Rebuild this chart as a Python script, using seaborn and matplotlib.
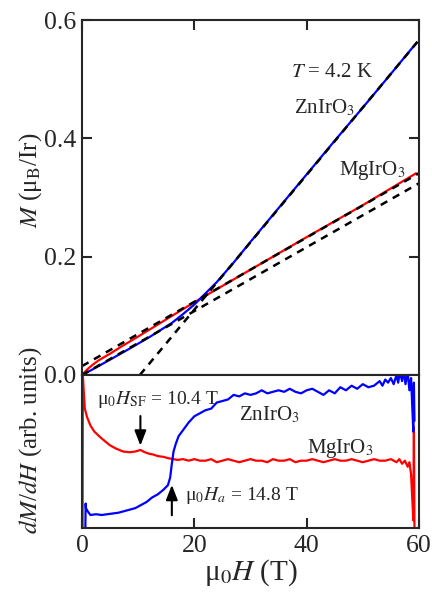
import numpy as np
import pandas as pd
import matplotlib
matplotlib.use("Agg")
import matplotlib.pyplot as plt
import seaborn as sns

# --- magnetization M(H) ---
mg_H = [0, 1, 2, 3, 5, 7, 10, 15, 20, 30, 40, 50, 59.5]
mg_M = [0, 0.010, 0.018, 0.025, 0.036, 0.048, 0.065, 0.094, 0.123, 0.178, 0.233, 0.287, 0.341]

zn_H = [0, 2, 5, 8, 10, 12, 14, 16, 18, 20, 22, 24, 27, 30, 35, 40, 45, 50, 55, 59.6]
zn_M = [0, 0.010, 0.026, 0.042, 0.053, 0.064, 0.076, 0.088, 0.103, 0.119, 0.138, 0.157,
        0.190, 0.225, 0.282, 0.339, 0.396, 0.452, 0.509, 0.562]

# linear fits (dashed)
fit_mg_H = [0, 60]
fit_mg_M = [0.015, 0.341]
fit_zn_low_H = [0, 60]
fit_zn_low_M = [0.0, 0.324]
fit_zn_high_H = [10.3, 60]
fit_zn_high_M = [0.0, 0.566]

# --- dM/dH (arb. units) ---
dmg_H = [0.1, 0.15, 0.5, 0.9, 1.5, 2.2, 3.2, 4.0, 5.0, 6.0, 7.3, 8.5, 9.5, 10.4, 11.2,
         12.0, 12.7, 13.5, 14.5, 15.5, 16.3, 17.0, 18.0, 19.0,
         20, 21, 22, 23, 24, 25, 26, 27, 28, 29, 30, 31, 32, 33, 34, 35, 36, 37,
         38, 39, 40, 41, 42, 43, 44, 45, 46, 47, 48, 49, 50, 51, 52, 53, 54, 55,
         56, 56.5, 57, 57.5, 58, 58.3, 58.6, 58.8, 59.0, 59.1, 59.2]
dmg_v = [0.0, 1.0, 0.78, 0.725, 0.67, 0.63, 0.595, 0.57, 0.54, 0.52, 0.50, 0.495, 0.50, 0.51,
         0.495, 0.485, 0.48, 0.47, 0.465, 0.455, 0.45, 0.445, 0.45, 0.44,
         0.45, 0.44, 0.44, 0.45, 0.43, 0.44, 0.45, 0.44, 0.43, 0.44, 0.45, 0.44, 0.44, 0.43,
         0.45, 0.44, 0.44, 0.45, 0.43, 0.44, 0.44, 0.45, 0.44, 0.43, 0.44, 0.45, 0.44, 0.44,
         0.45, 0.44, 0.43, 0.44, 0.45, 0.44, 0.44, 0.45,
         0.43, 0.45, 0.42, 0.44, 0.40, 0.43, 0.35, 0.20, 0.05, 0.66, 0.0]

dzn_H = [0.6, 0.65, 0.7, 1.0, 1.5, 2.5, 3.5, 4.5, 5.5, 6.5, 7.5, 8.5, 9.5, 10.5, 11.5,
         12.5, 13.5, 14.5, 15.3, 15.7, 16.0, 16.3, 16.7, 17.2, 18, 19, 20, 21, 22, 23,
         24, 25, 26, 27, 28, 29, 30, 31, 32, 33, 34, 35, 36, 37, 38, 39, 40, 41, 42,
         43, 44, 45, 46, 47, 48, 49, 50, 51, 52, 53, 53.5, 54, 54.5, 55, 55.5, 56,
         56.3, 56.6, 57, 57.3, 57.6, 58, 58.3, 58.6, 58.8, 59.0, 59.1, 59.2]
dzn_v = [0.0, 0.16, 0.13, 0.11, 0.085, 0.09, 0.085, 0.09, 0.095, 0.10, 0.11, 0.12, 0.13,
         0.15, 0.17, 0.20, 0.22, 0.25, 0.28, 0.33, 0.42, 0.50, 0.55, 0.60, 0.64, 0.69,
         0.73, 0.75, 0.77, 0.78, 0.82, 0.83, 0.84, 0.87, 0.86, 0.88, 0.87, 0.88, 0.90,
         0.88, 0.89, 0.90, 0.89, 0.91, 0.89, 0.88, 0.90, 0.91, 0.89, 0.87, 0.90, 0.88,
         0.92, 0.90, 0.93, 0.91, 0.94, 0.92, 0.93, 0.96, 0.93, 0.97, 0.95, 0.98, 0.94,
         1.0, 0.95, 1.02, 0.96, 1.03, 0.94, 1.02, 0.90, 0.98, 0.80, 0.63, 0.95, 0.70]

x_ticks = [0, 20, 40, 60]
m_ticks = [0.0, 0.2, 0.4, 0.6]

sns.set_style("ticks")
plt.rcParams['font.family'] = ['Liberation Serif', 'DejaVu Serif']
plt.rcParams['mathtext.fontset'] = 'stix'
plt.rcParams['axes.linewidth'] = 1.5

fig = plt.figure(figsize=(4.32, 5.94), dpi=100)
ax1 = fig.add_axes([0.1898, 0.3687, 0.780, 0.5976])
ax2 = fig.add_axes([0.1898, 0.1111, 0.780, 0.2576])

red = "#ff0000"
blue = "#0000ff"

# top panel
sns.lineplot(x=mg_H, y=mg_M, ax=ax1, color=red, lw=1.6, sort=False, estimator=None)
sns.lineplot(x=zn_H, y=zn_M, ax=ax1, color=blue, lw=1.6, sort=False, estimator=None)
for fh, fm in [(fit_mg_H, fit_mg_M), (fit_zn_low_H, fit_zn_low_M), (fit_zn_high_H, fit_zn_high_M)]:
    sns.lineplot(x=fh, y=fm, ax=ax1, color="black", lw=1.8, sort=False, estimator=None,
                 linestyle=(0, (3, 2.5)))

ax1.set_xlim(0, 60)
ax1.set_ylim(0, 0.6)
ax1.set_xticks(x_ticks)
ax1.set_yticks(m_ticks)
ax1.set_yticklabels([f"{t:.1f}" for t in m_ticks])
ax1.tick_params(direction="in", length=7, width=1.5, labelsize=18.5,
                top=True, bottom=False, right=True, labelbottom=False, pad=4)

ax1.text(37.3, 0.511, "$T$ = 4.2 K", fontsize=15, va="center")
ax1.text(37.7, 0.451, "ZnIrO$_3$", fontsize=15, va="center")
ax1.text(45.7, 0.346, "MgIrO$_3$", fontsize=15, va="center")

# bottom panel
sns.lineplot(x=dmg_H, y=dmg_v, ax=ax2, color=red, lw=1.6, sort=False, estimator=None)
sns.lineplot(x=dzn_H, y=dzn_v, ax=ax2, color=blue, lw=1.6, sort=False, estimator=None)

ax2.set_xlim(0, 60)
ax2.set_ylim(0, 1)
ax2.set_xticks(x_ticks)
ax2.set_yticks([])
ax2.tick_params(direction="in", length=7, width=1.5, labelsize=18.5, top=False, pad=5)

arr = dict(arrowstyle="-|>,head_width=0.35,head_length=0.9", color="black", lw=1.5)
ax2.annotate("", xy=(10.4, 0.52), xytext=(10.4, 0.75), arrowprops=arr)
ax2.annotate("", xy=(16.0, 0.30), xytext=(16.0, 0.065), arrowprops=arr)
ax2.text(13.6, 0.84, "μ$_0H_{\\rm SF}$ = 10.4 T", fontsize=14, ha="center", va="center")
ax2.text(18.4, 0.215, "μ$_0H_a$ = 14.8 T", fontsize=14, ha="left", va="center")
ax2.text(28.0, 0.74, "ZnIrO$_3$", fontsize=15, va="center")
ax2.text(40.0, 0.52, "MgIrO$_3$", fontsize=15, va="center")

ax1.set_xlabel("")
ax1.set_ylabel("")
ax2.set_xlabel("μ$_0H$ (T)", fontsize=21, labelpad=0)
ax2.set_ylabel("")

fig.text(0.07, 1 - 180 / 594, "$M$ (μ$_{\\rm B}$/Ir)", rotation=90, fontsize=18,
         ha="center", va="center")
fig.text(0.07, 1 - 440 / 594, "$dM$/$dH$ (arb. units)", rotation=90, fontsize=18,
         ha="center", va="center")

fig.savefig("out.png", dpi=100)
